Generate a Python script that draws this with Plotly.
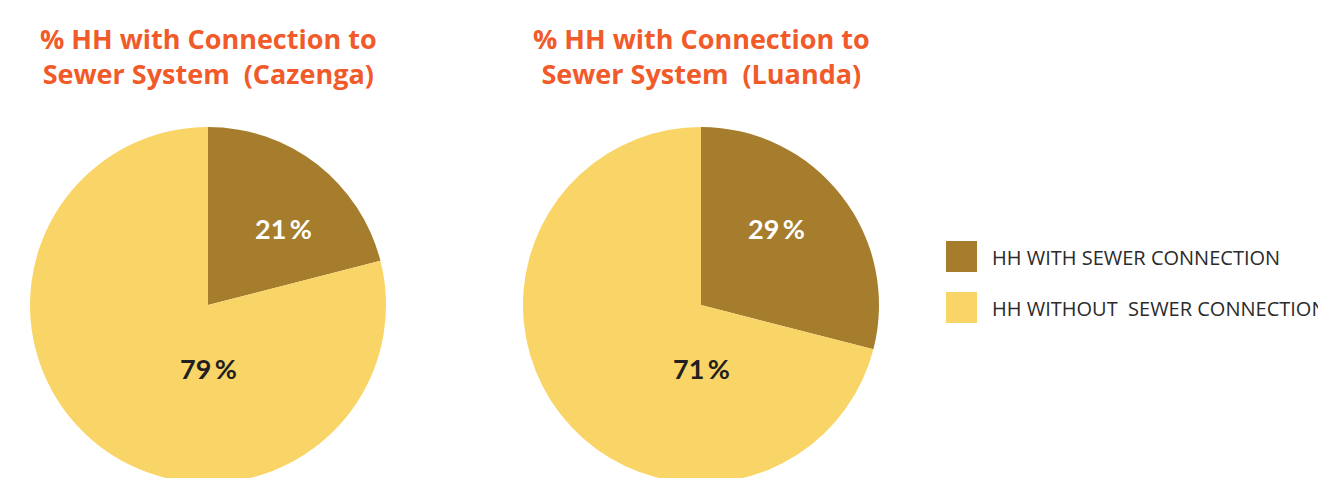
import plotly.graph_objects as go

W, H = 1326, 478
OFF = 8  # page body margin offset

categories = ["HH WITH SEWER CONNECTION", "HH WITHOUT\u00a0 SEWER CONNECTION"]
cazenga_values = [21, 79]
luanda_values = [29, 71]
titles = ["% HH with Connection to<br>Sewer System\u00a0 (Cazenga)",
          "% HH with Connection to<br>Sewer System\u00a0 (Luanda)"]
colors = ["#A57D2D", "#F9D567"]
label_colors = ["#FFFFFF", "#231F20"]

R = 178
centers_px = [208 - OFF, 701 - OFF]
cy_px = 305 - OFF  # from top of figure


def px(x):
    return x / W


def py(y):
    return 1 - y / H


fig = go.Figure()
annotations = []
shapes = []

for i, (vals, title, cx) in enumerate(zip([cazenga_values, luanda_values], titles, centers_px)):
    fig.add_trace(go.Pie(
        labels=categories, values=vals, sort=False, direction="clockwise", rotation=0,
        marker=dict(colors=colors, line=dict(width=0)),
        textinfo="none", hoverinfo="label+percent", showlegend=False,
        domain=dict(x=[px(cx - R), px(cx + R)], y=[py(cy_px + R), py(cy_px - R)]),
    ))
    offsets = [(75, -76), (0, 63)]
    for j, v in enumerate(vals):
        dx, dy = offsets[j]
        annotations.append(dict(
            x=px(cx + dx), y=py(cy_px + dy), xref="paper", yref="paper",
            text=f"<b>{v}\u2009%</b>", showarrow=False,
            font=dict(family="Lato", size=27, color=label_colors[j]),
            xanchor="center", yanchor="middle"))
    annotations.append(dict(
        x=px(cx), y=py(55.5 - OFF), xref="paper", yref="paper", text=f"<b>{title}</b>",
        showarrow=False, font=dict(family="Open Sans", size=27, color="#F15A29"),
        xanchor="center", yanchor="middle", align="center"))

for k, (lab, col) in enumerate(zip(categories, colors)):
    top = 241 + k * 51 - OFF
    shapes.append(dict(type="rect", xref="paper", yref="paper",
                       x0=px(946 - OFF), x1=px(977 - OFF), y0=py(top + 31), y1=py(top),
                       fillcolor=col, line=dict(width=0)))
    annotations.append(dict(
        x=px(990 - OFF), y=py(top + 16), xref="paper", yref="paper", text=lab,
        showarrow=False, font=dict(family="Open Sans", size=20, color="#2B2B2B"),
        xanchor="left", yanchor="middle"))

fig.update_layout(
    width=W, height=H, margin=dict(l=0, r=0, t=0, b=0),
    paper_bgcolor="white", plot_bgcolor="white",
    annotations=annotations, shapes=shapes,
)

fig.write_html("out.html")
